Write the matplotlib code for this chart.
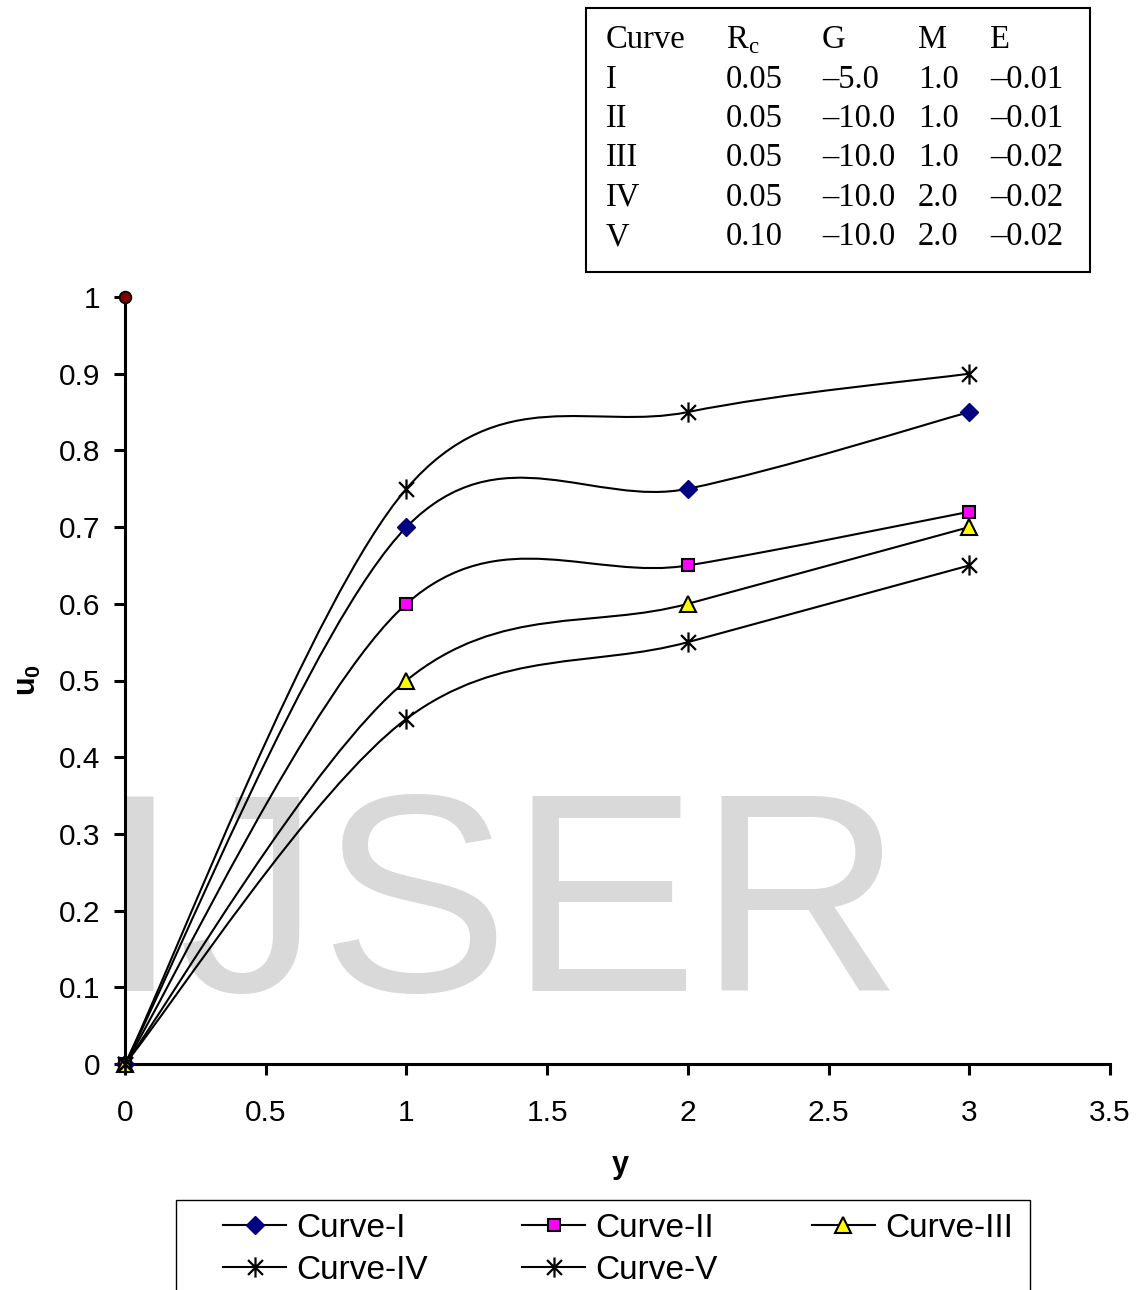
import matplotlib
matplotlib.use("Agg")
import matplotlib.pyplot as plt
import numpy as np
from matplotlib.lines import Line2D
from matplotlib.patches import PathPatch, Rectangle
from matplotlib.path import Path

plt.rcParams["font.family"] = ["Liberation Sans", "DejaVu Sans"]
plt.rcParams["mathtext.fontset"] = "custom"
plt.rcParams["mathtext.rm"] = "Liberation Serif"
plt.rcParams["mathtext.bf"] = "Liberation Sans:bold"

# data
y_vals = [0, 1, 2, 3]
curve_1 = [0, 0.70, 0.75, 0.85]
curve_2 = [0, 0.60, 0.65, 0.72]
curve_3 = [0, 0.50, 0.60, 0.70]
curve_4 = [0, 0.75, 0.85, 0.90]
curve_5 = [0, 0.45, 0.55, 0.65]
extra_x = [0]
extra_y = [1.0]
curve_names = ["Curve-I", "Curve-II", "Curve-III", "Curve-IV", "Curve-V"]

x_ticks = [0, 0.5, 1, 1.5, 2, 2.5, 3, 3.5]
x_tick_labels = ["0", "0.5", "1", "1.5", "2", "2.5", "3", "3.5"]
y_ticks = [0, 0.1, 0.2, 0.3, 0.4, 0.5, 0.6, 0.7, 0.8, 0.9, 1]
y_tick_labels = ["0", "0.1", "0.2", "0.3", "0.4", "0.5", "0.6", "0.7", "0.8", "0.9", "1"]

table_header = ["Curve", r"$\mathrm{R}_{\mathrm{c}}$", "G", "M", "E"]
table_rows = [
    ["I", "0.05", "\u20135.0", "1.0", "\u20130.01"],
    ["II", "0.05", "\u201310.0", "1.0", "\u20130.01"],
    ["III", "0.05", "\u201310.0", "1.0", "\u20130.02"],
    ["IV", "0.05", "\u201310.0", "2.0", "\u20130.02"],
    ["V", "0.10", "\u201310.0", "2.0", "\u20130.02"],
]

# asterisk marker like the spreadsheet one
star = Path([(-1, -1), (1, 1), (-1, 1), (1, -1), (0, -1.35), (0, 1.35)],
            [Path.MOVETO, Path.LINETO, Path.MOVETO, Path.LINETO,
             Path.MOVETO, Path.LINETO])

styles = [
    dict(marker="D", ms=9.5, mfc="#000080", mec="#000080", mew=1),
    dict(marker="s", ms=9, mfc="#ff00ff", mec="black", mew=1.5),
    dict(marker="^", ms=11, mfc="#ffff00", mec="black", mew=1.5),
    dict(marker=star, ms=14.5, mfc="none", mec="black", mew=1.6),
    dict(marker=star, ms=14.5, mfc="none", mec="black", mew=1.6),
]


def smooth_path(xs, ys):
    # catmull-rom style bezier, like a "smoothed line" chart
    pts = np.column_stack([xs, ys]).astype(float)
    n = len(pts)
    verts = [pts[0]]
    codes = [Path.MOVETO]
    for i in range(n - 1):
        p0 = pts[max(i - 1, 0)]
        p1 = pts[i]
        p2 = pts[i + 1]
        p3 = pts[min(i + 2, n - 1)]
        verts += [p1 + (p2 - p0) / 6, p2 - (p3 - p1) / 6, p2]
        codes += [Path.CURVE4] * 3
    return Path(verts, codes)


W, H = 1146, 1290
fig = plt.figure(figsize=(W / 100, H / 100), dpi=100)
ax = fig.add_axes([125 / W, (H - 1064) / H, 985 / W, 767 / H])
ax.patch.set_visible(False)

ax.text(502 / W, 1 - 991 / H, "IJSER", transform=fig.transFigure,
        fontsize=204, color="#d9d9d9", ha="center", va="baseline", zorder=0)

handles = []
for ys, st in zip([curve_1, curve_2, curve_3, curve_4, curve_5], styles):
    ax.add_patch(PathPatch(smooth_path(y_vals, ys), facecolor="none",
                           edgecolor="black", lw=1.5, zorder=2))
    ax.plot(y_vals, ys, linestyle="none", clip_on=False, zorder=3, **st)
    handles.append(Line2D([], [], color="black", lw=1.5, **st))

ax.plot(extra_x, extra_y, linestyle="none", marker="o", ms=8.5, mfc="#800000",
        mec="black", mew=1.2, clip_on=False, zorder=3)

ax.set_xlim(0, 3.5)
ax.set_ylim(0, 1)
ax.set_xticks(x_ticks)
ax.set_xticklabels(x_tick_labels)
ax.set_yticks(y_ticks)
ax.set_yticklabels(y_tick_labels)
ax.spines["top"].set_visible(False)
ax.spines["right"].set_visible(False)
ax.spines["left"].set_linewidth(2.2)
ax.spines["bottom"].set_linewidth(2.2)
ax.tick_params(direction="out", length=8, width=2.2, labelsize=21.5)
ax.tick_params(axis="x", pad=17)
ax.tick_params(axis="y", pad=9.5)

ax.set_xlabel("y", fontsize=22, fontweight="bold")
ax.xaxis.set_label_coords(0.5025, -0.1317)
ax.xaxis.label.set_va("center")
ax.set_ylabel(r"$\mathbf{u}_{\mathbf{0}}$", fontsize=22)
ax.yaxis.set_label_coords(-0.0985, 0.5007)
ax.yaxis.label.set_va("center")

# legend box runs off the bottom of the figure
fig.add_artist(Rectangle((176 / W, -20 / H), 854 / W, (H - 1200 + 20) / H,
                         transform=fig.transFigure, fill=False,
                         edgecolor="black", lw=1.0))
order = [0, 3, 1, 4, 2]
leg = fig.legend([handles[i] for i in order], [curve_names[i] for i in order],
                 ncol=3, loc="upper left",
                 bbox_to_anchor=(223 / W, 1 - 1213 / H),
                 fontsize=24, frameon=False, handlelength=1.9,
                 handletextpad=0.3, columnspacing=2.82, labelspacing=0.33,
                 borderpad=0, borderaxespad=0)

# parameter table in the top right
fig.add_artist(Rectangle((586 / W, 1 - 272 / H), 504 / W, 264 / H,
                         transform=fig.transFigure, fill=False,
                         edgecolor="black", lw=1.5))
col_x = [606, 726, 822, 918, 990]
row_base = [48.5, 87.8, 127.1, 166.5, 205.8, 245]
for r, row in enumerate([table_header] + table_rows):
    for c, cell in enumerate(row):
        fig.text(col_x[c] / W, 1 - row_base[r] / H, cell,
                 fontfamily="Liberation Serif", fontsize=23.5,
                 ha="left", va="baseline")

fig.savefig("out.png", dpi=100)
